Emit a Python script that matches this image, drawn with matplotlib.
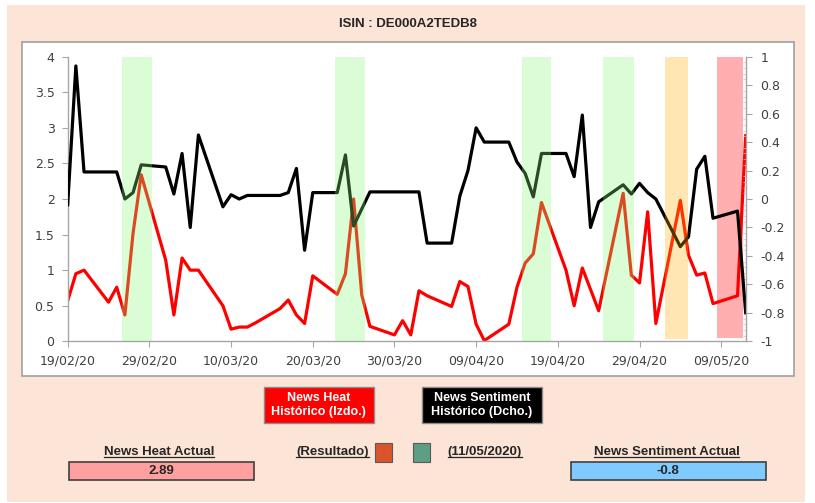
import matplotlib

matplotlib.use("Agg")
import matplotlib.pyplot as plt
import matplotlib.patches as patches
import matplotlib.ticker as mticker
from matplotlib.lines import Line2D
import pandas as pd

# business-day series, 19/02/2020 .. 12/05/2020
dates = pd.bdate_range("2020-02-19", "2020-05-12")

heat = [
    0.57, 0.95, 1.00, 0.55, 0.76, 0.37, 1.52, 2.34,
    1.14, 0.37, 1.17, 1.00, 1.00,
    0.50, 0.17, 0.20, 0.20, 0.26,
    0.46, 0.58, 0.37, 0.25, 0.92,
    0.66, 0.95, 2.00, 0.65, 0.21,
    0.09, 0.29, 0.09, 0.71, 0.64,
    0.49, 0.84, 0.77, 0.24, 0.01,
    0.24, 0.76, 1.10, 1.23, 1.95,
    1.00, 0.50, 1.03, 0.73, 0.43,
    2.08, 0.93, 0.82, 1.82, 0.25,
    1.98, 1.21, 0.93, 0.96, 0.53,
    0.64, 2.89,
]

sentiment = [
    -0.04, 0.935, 0.19, 0.19, 0.19, 0.00, 0.045, 0.24,
    0.225, 0.035, 0.32, -0.20, 0.45,
    -0.055, 0.03, 0.00, 0.025, 0.025,
    0.025, 0.045, 0.215, -0.36, 0.045,
    0.045, 0.31, -0.19, -0.07, 0.05,
    0.05, 0.05, 0.05, 0.05, -0.31,
    -0.31, 0.02, 0.20, 0.50, 0.40,
    0.40, 0.26, 0.18, 0.015, 0.32,
    0.32, 0.157, 0.59, -0.20, -0.02,
    0.10, 0.035, 0.11, 0.045, 0.00,
    -0.335, -0.265, 0.21, 0.30, -0.135,
    -0.085, -0.80,
]

# signal periods shown as shaded columns
band_start = pd.to_datetime([
    "2020-02-25 16:00", "2020-03-22 17:00", "2020-04-14 14:00",
    "2020-04-24 14:00", "2020-05-02 02:00", "2020-05-08 12:00",
])
band_end = pd.to_datetime([
    "2020-02-29 07:00", "2020-03-26 10:00", "2020-04-18 05:00",
    "2020-04-28 07:00", "2020-05-04 22:00", "2020-05-11 17:00",
])
band_kind = ["pos", "pos", "pos", "pos", "neutral", "neg"]

x_ticks = pd.date_range("2020-02-19", "2020-05-09", freq="10D")

isin = "DE000A2TEDB8"
fecha = "11/05/2020"
heat_actual = 2.89
sentiment_actual = -0.8

W, H = 815, 503
PEACH = "#FCE4D6"
AXIS_GREY = "#A6A6A6"
LABEL = "#404040"
FONT = ["Liberation Sans", "DejaVu Sans"]


def fx(x):
    return x / W


def fy(y):
    return 1 - y / H


def fig_rect(fig, x0, y0, x1, y1, **kw):
    rect = patches.Rectangle((fx(x0), fy(y1)), fx(x1) - fx(x0), fy(y0) - fy(y1),
                             transform=fig.transFigure, **kw)
    fig.add_artist(rect)
    return rect


def underlined(fig, renderer, x, y, s, size=9.5):
    t = fig.text(fx(x), fy(y), s, ha="center", va="center", fontsize=size,
                 fontweight="bold", color="#262626", family=FONT)
    bb = t.get_window_extent(renderer).transformed(fig.transFigure.inverted())
    fig.add_artist(Line2D([bb.x0, bb.x1], [bb.y0 + 1.5 / H] * 2, transform=fig.transFigure,
                          color="#262626", lw=0.9))
    return t


fig = plt.figure(figsize=(W / 100, H / 100), dpi=100)
fig.patch.set_facecolor("white")

# outer panel and white chart area
fig_rect(fig, 7, 5, 805, 502, facecolor=PEACH, edgecolor="none", zorder=-20)
fig_rect(fig, 21.5, 42, 794, 376, facecolor="white", edgecolor="#A0A0A0", lw=1.2, zorder=-10)

fig.text(fx(408), fy(24), f"ISIN : {isin}", ha="center", va="center", fontsize=9.5,
         fontweight="bold", color="#262626", family=FONT)

ax = fig.add_axes([fx(67.7), fy(341.3), fx(745.7) - fx(67.7), fy(56.7) - fy(341.3)])
ax.set_facecolor("white")
ax2 = ax.twinx()

ax.plot(dates, heat, color="#FF0000", lw=2.3, zorder=2)
ax2.plot(dates, sentiment, color="black", lw=2.3, zorder=2)

for start, end, kind in zip(band_start, band_end, band_kind):
    if kind == "neg":
        ax.axvspan(start, end, ymin=0.012, ymax=1, color="#FFAFAF", lw=0, zorder=0.5)
    elif kind == "neutral":
        ax2.axvspan(start, end, ymin=0.007, ymax=1, color="#FFAF00", alpha=0.3, lw=0, zorder=3)
    else:
        ax2.axvspan(start, end, ymin=0, ymax=1, color="#85FA75", alpha=0.3, lw=0, zorder=3)

ax.set_xlim(dates[0], dates[-1])
ax.set_ylim(0, 4)
ax2.set_ylim(-1, 1)

ax.set_xticks(x_ticks)
ax.set_xticklabels([d.strftime("%d/%m/%y") for d in x_ticks])
ax.yaxis.set_major_locator(mticker.MultipleLocator(0.5))
ax.yaxis.set_major_formatter(mticker.FuncFormatter(lambda v, p: f"{v:g}"))
ax2.yaxis.set_major_locator(mticker.MultipleLocator(0.2))
ax2.yaxis.set_minor_locator(mticker.MultipleLocator(0.04))
ax2.yaxis.set_major_formatter(mticker.FuncFormatter(lambda v, p: f"{round(v, 1):g}"))

for a in (ax, ax2):
    a.spines["top"].set_visible(False)
    for side in ("left", "right", "bottom"):
        a.spines[side].set_color(AXIS_GREY)
        a.spines[side].set_linewidth(1.0)
ax.spines["right"].set_visible(False)
ax2.spines["left"].set_visible(False)
ax2.spines["bottom"].set_visible(False)

ax.tick_params(axis="both", direction="out", length=4.5, width=0.8, color=AXIS_GREY,
               labelcolor=LABEL, labelsize=9)
ax.tick_params(axis="y", pad=5)
ax.tick_params(axis="x", pad=5)
ax2.tick_params(axis="y", which="major", direction="out", length=4.5, width=0.8,
                color=AXIS_GREY, labelcolor=LABEL, labelsize=9, pad=6)
ax2.tick_params(axis="y", which="minor", direction="in", length=2, width=0.5, color="#C8C8C8")

# legend boxes
fig_rect(fig, 263.5, 387, 374, 423, facecolor="#FF0000", edgecolor="#8C8C8C", lw=1)
fig.text(fx(318.7), fy(405), "News Heat\nHistórico (Izdo.)", ha="center", va="center",
         fontsize=9, fontweight="bold", color="white", family=FONT, linespacing=1.25)
fig_rect(fig, 422, 387, 542, 423, facecolor="black", edgecolor="#8C8C8C", lw=1)
fig.text(fx(482), fy(405), "News Sentiment\nHistórico (Dcho.)", ha="center", va="center",
         fontsize=9, fontweight="bold", color="white", family=FONT, linespacing=1.25)

renderer = fig.canvas.get_renderer()

underlined(fig, renderer, 159, 452, "News Heat Actual")
fig_rect(fig, 68.6, 462, 253.6, 480, facecolor="#FF9F9F", edgecolor="#404040", lw=1.2)
fig.text(fx(161), fy(471), f"{heat_actual:g}", ha="center", va="center", fontsize=9.5,
         fontweight="bold", color="#262626", family=FONT)

underlined(fig, renderer, 332.5, 452, "(Resultado)")
fig_rect(fig, 375, 443, 392, 462, facecolor="#D9542C", edgecolor="#595959", lw=0.8)
fig_rect(fig, 413, 443, 430, 462, facecolor="#5E9E86", edgecolor="#595959", lw=0.8)
underlined(fig, renderer, 485, 452, f"({fecha})")

underlined(fig, renderer, 666.5, 452, "News Sentiment Actual")
fig_rect(fig, 571, 462, 766, 480, facecolor="#7FCAFF", edgecolor="#404040", lw=1.2)
fig.text(fx(668), fy(471), f"{sentiment_actual:g}", ha="center", va="center", fontsize=9.5,
         fontweight="bold", color="#262626", family=FONT)

fig.savefig("out.png", dpi=100)
